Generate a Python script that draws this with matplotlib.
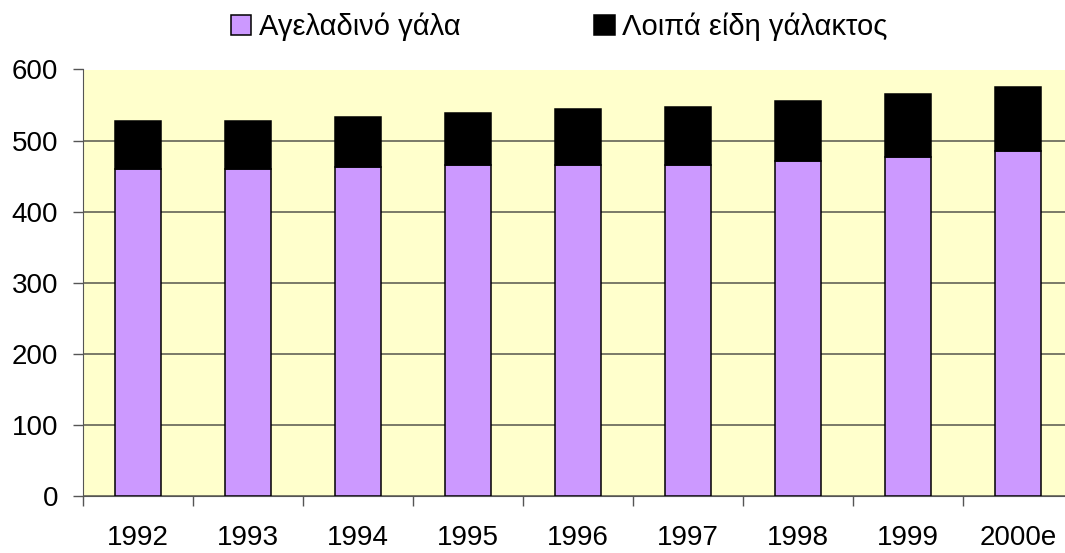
import matplotlib.pyplot as plt
import numpy as np

plt.rcParams['font.family'] = ['Liberation Sans', 'DejaVu Sans']

years = ["1992", "1993", "1994", "1995", "1996", "1997", "1998", "1999", "2000e"]
cow_milk = [460, 460, 463, 465, 465, 465, 471, 477, 485]
other_milk = [67, 67, 70, 74, 79, 82, 84, 89, 90]
series_names = ["Αγελαδινό γάλα", "Λοιπά είδη γάλακτος"]

fig = plt.figure(figsize=(10.65, 5.53), dpi=100)
ax = fig.add_axes([83 / 1065, 57 / 553, 990 / 1065, 426.5 / 553])
ax.set_facecolor("#FFFFCC")

x = np.arange(len(years))
width = 0.41
ax.bar(x, cow_milk, width, color="#CC99FF", edgecolor="black", linewidth=1.1,
       label=series_names[0], zorder=3)
ax.bar(x, other_milk, width, bottom=cow_milk, color="black", edgecolor="black",
       linewidth=1.1, label=series_names[1], zorder=3)

ax.set_xlim(-0.5, len(years) - 0.5)
ax.set_ylim(0, 600)
ax.set_yticks(range(0, 601, 100))
ax.yaxis.grid(True, color="#6f6f60", linewidth=1.3, zorder=1)

ax.set_xticks(x, years)
ax.set_xticks(np.arange(len(years) + 1) - 0.5, minor=True)
ax.tick_params(axis="x", which="major", length=0, pad=21, labelsize=20)
ax.tick_params(axis="x", which="minor", length=7.5, width=1, color="#555555")
ax.tick_params(axis="y", length=7, width=1, color="#555555", pad=11, labelsize=20)

for side in ["top", "right"]:
    ax.spines[side].set_visible(False)
ax.spines["left"].set_color("#555555")
ax.spines["bottom"].set_color("#555555")

fig.legend(loc="center", bbox_to_anchor=(0.525, 0.951), ncol=2, frameon=False,
           fontsize=21, handlelength=0.7, handleheight=0.7, handletextpad=0.25,
           columnspacing=4.6, borderaxespad=0.0)

fig.savefig("out.png", dpi=100)
